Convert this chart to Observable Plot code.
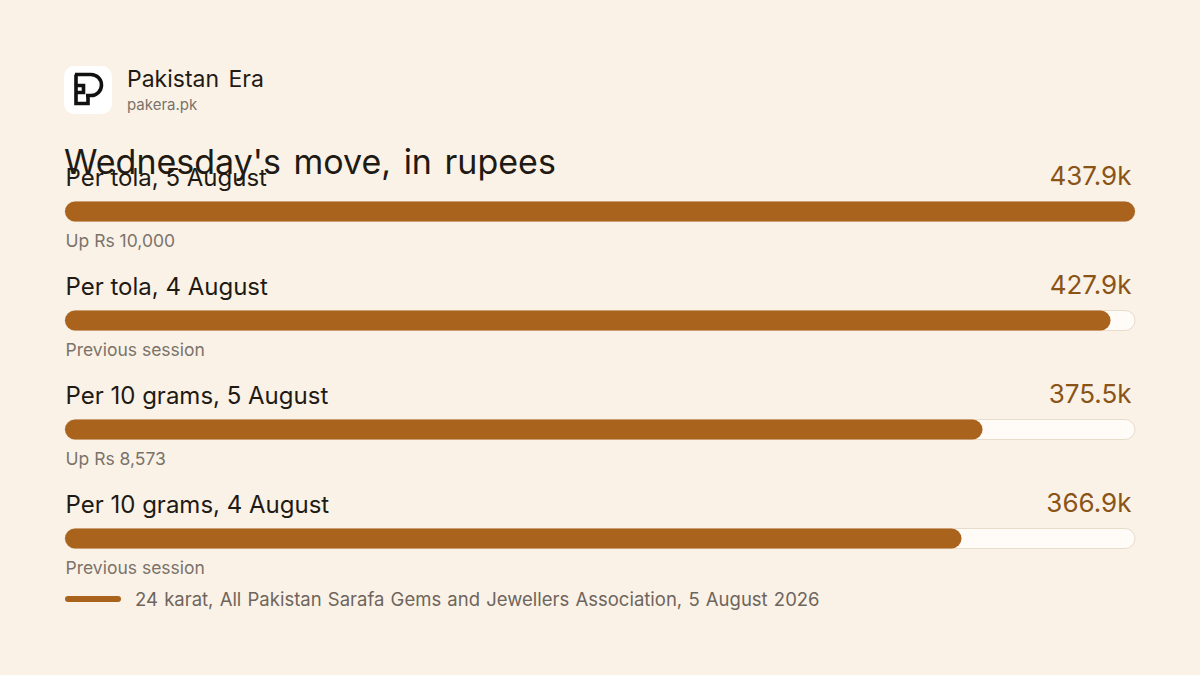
<!DOCTYPE html>
<html>
<head>
<meta charset="utf-8">
<script src="https://cdn.jsdelivr.net/npm/d3@7"></script>
<script src="https://cdn.jsdelivr.net/npm/@observablehq/plot@0.6"></script>
<style>
  html, body { margin: 0; padding: 0; background: #faf2e7; }
  body { width: 1200px; height: 675px; position: relative; overflow: hidden; font-family: Inter, "Noto Sans", sans-serif; }
  .abs { position: absolute; }
  #logo { left: 64px; top: 66px; width: 48px; height: 48px; }
  #brand { left: 127px; top: 66px; font-size: 23px; color: #1f1a14; line-height: 26px; word-spacing: 3px; }
  #site { left: 127px; top: 96px; font-size: 15px; color: #7b736b; line-height: 18px; }
  #title { left: 64px; top: 142px; font-size: 34px; color: #1f1a14; line-height: 40px; word-spacing: 3px; }
  #chart { left: 0; top: 0; }
  #legend { left: 65px; top: 587px; font-size: 18.5px; color: #6e655c; line-height: 24px; display: flex; align-items: center; word-spacing: 1px; }
  #legend .sw { display: inline-block; width: 56px; height: 6px; border-radius: 3px; background: #a9631d; margin-right: 14px; }
</style>
</head>
<body>
<svg id="logo" class="abs" viewBox="0 0 48 48">
  <rect x="0" y="0" width="48" height="48" rx="10" fill="#ffffff"/>
  <g fill="none" stroke="#111" stroke-width="3.6" stroke-linejoin="miter">
    <path d="M11 8.5 H27 A10.5 10.5 0 0 1 27 29.5 H22"/>
    <path d="M12 8.5 V18.5"/>
    <path d="M12 19.5 H19.5 V26.5 H12 Z"/>
    <path d="M12 28 V37.5 H24 V28"/>
  </g>
</svg>
<div id="brand" class="abs">Pakistan Era</div>
<div id="site" class="abs">pakera.pk</div>
<div id="chart" class="abs"></div>
<div id="title" class="abs">Wednesday's move, in rupees</div>
<div id="legend" class="abs"><span class="sw"></span>24 karat, All Pakistan Sarafa Gems and Jewellers Association, 5 August 2026</div>
<script>
const labels = ["Per tola, 5 August", "Per tola, 4 August", "Per 10 grams, 5 August", "Per 10 grams, 4 August"];
const values = [437.9, 427.9, 375.5, 366.9]; // thousand rupees
const notes = ["Up Rs 10,000", "Previous session", "Up Rs 8,573", "Previous session"];

const data = labels.map((label, i) => ({label, value: values[i], note: notes[i]}));
const maxV = d3.max(values);
const fmt = v => d3.format(".1f")(v) + "k";

const plot = Plot.plot({
  width: 1200,
  height: 675,
  marginLeft: 65,
  marginRight: 65,
  marginTop: 0,
  marginBottom: 0,
  style: {background: "transparent", fontFamily: "Inter, 'Noto Sans', sans-serif"},
  x: {domain: [0, maxV], axis: null},
  y: {type: "band", domain: labels, range: [156.5, 592.5], padding: 0, axis: null},
  marks: [
    Plot.barX(data, {y: "label", x1: 0, x2: () => maxV, fill: "#fffcf7", stroke: "#e8dccb", strokeWidth: 1, rx: 10, insetTop: 44.5, insetBottom: 44.5}),
    Plot.barX(data, {y: "label", x1: 0, x2: "value", fill: "#a9631d", rx: 10, insetTop: 44.5, insetBottom: 44.5}),
    Plot.text(data, {y: "label", frameAnchor: "left", text: "label", textAnchor: "start", dy: -34, fontSize: 24, fill: "#1f1a14"}),
    Plot.text(data, {y: "label", frameAnchor: "right", text: d => fmt(d.value), textAnchor: "end", dx: -4, dy: -35, fontSize: 26, fill: "#8b5417"}),
    Plot.text(data, {y: "label", frameAnchor: "left", text: "note", textAnchor: "start", dy: 29, fontSize: 17.5, fill: "#7b736b"})
  ]
});
document.getElementById("chart").appendChild(plot);
</script>
</body>
</html>
